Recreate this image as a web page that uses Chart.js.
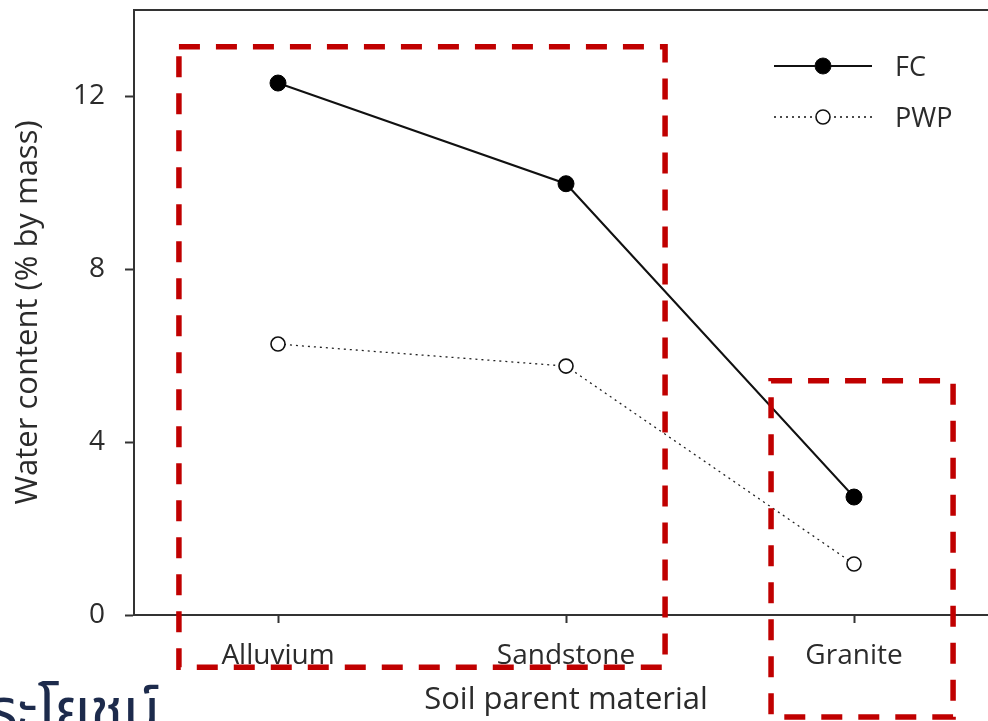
<!DOCTYPE html>
<html>
<head>
<meta charset="utf-8">
<script src="https://cdn.jsdelivr.net/npm/chart.js@4"></script>
<style>
  html, body { margin: 0; padding: 0; background: #fff; overflow: hidden; }
  #wrap { position: relative; width: 988px; height: 721px; overflow: hidden; }
  #thai { position: absolute; left: -48px; top: 667px; font-family: "Noto Sans Thai", "Noto Sans", sans-serif; font-size: 60px; color: #1d2b4c; white-space: nowrap; }
</style>
</head>
<body>
<div id="wrap">
  <!-- the plot runs a little past the right edge of the picture, as in the original -->
  <canvas id="chart" width="1007" height="721"></canvas>
  <div id="thai">ประโยชน์</div>
</div>
<script>
const materials = ['Alluvium', 'Sandstone', 'Granite']
const fcValues = [12.31, 9.98, 2.73]
const pwpValues = [6.27, 5.76, 1.18]
const yTicks = [0, 4, 8, 12]
// highlight boxes, in axis units: [xMin, xMax, yMin, yMax]
const highlights = [
    [-0.344, 1.344, -1.21, 13.15],
    [1.712, 2.344, -2.36, 5.42]
]

const textColor = '#2b2b2b'
const fontFamily = '"Open Sans", "Noto Sans", sans-serif'

const extras = {
    id: 'extras',
    afterDraw(chart) {
        const {ctx, chartArea, scales} = chart
        ctx.save()
        // top frame line
        ctx.strokeStyle = '#333'
        ctx.lineWidth = 2
        ctx.beginPath()
        ctx.moveTo(chartArea.left, chartArea.top)
        ctx.lineTo(chartArea.right, chartArea.top)
        ctx.stroke()

        // legend
        const rows = [
            {label: 'FC', y: 66, ds: chart.data.datasets[0]},
            {label: 'PWP', y: 117, ds: chart.data.datasets[1]}
        ]
        rows.forEach(r => {
            ctx.strokeStyle = '#111'
            ctx.lineWidth = r.ds.borderWidth
            ctx.setLineDash(r.ds.borderDash || [])
            ctx.beginPath()
            ctx.moveTo(774, r.y)
            ctx.lineTo(872, r.y)
            ctx.stroke()
            ctx.setLineDash([])
            ctx.beginPath()
            ctx.arc(823, r.y, r.ds.pointRadius, 0, Math.PI * 2)
            ctx.fillStyle = r.ds.pointBackgroundColor
            ctx.fill()
            ctx.lineWidth = r.ds.pointBorderWidth
            ctx.strokeStyle = '#111'
            ctx.stroke()
            ctx.fillStyle = textColor
            ctx.font = `27px ${fontFamily}`
            ctx.textBaseline = 'middle'
            ctx.fillText(r.label, 895, r.y + 2)
        })

        // red dashed highlight boxes
        ctx.strokeStyle = '#c00000'
        ctx.lineWidth = 5.5
        ctx.setLineDash([21, 16])
        highlights.forEach(h => {
            const x1 = scales.x.getPixelForValue(h[0])
            const x2 = scales.x.getPixelForValue(h[1])
            const y1 = scales.y.getPixelForValue(h[3])
            const y2 = scales.y.getPixelForValue(h[2])
            ctx.strokeRect(x1, y1, x2 - x1, y2 - y1)
        })
        ctx.restore()
    }
}

new Chart(document.getElementById('chart'), {
    type: 'line',
    data: {
        datasets: [
            {
                label: 'FC',
                data: fcValues.map((v, i) => ({x: i, y: v})),
                borderColor: '#111',
                borderWidth: 2,
                pointRadius: 8,
                pointBackgroundColor: '#000',
                pointBorderColor: '#000',
                pointBorderWidth: 1
            },
            {
                label: 'PWP',
                data: pwpValues.map((v, i) => ({x: i, y: v})),
                borderColor: '#222',
                borderWidth: 1.3,
                borderDash: [2, 4],
                pointRadius: 7,
                pointBackgroundColor: '#fff',
                pointBorderColor: '#111',
                pointBorderWidth: 1.6
            }
        ]
    },
    options: {
        responsive: false,
        animation: false,
        layout: {padding: {top: 10, right: 0, left: 0, bottom: 0}},
        plugins: {legend: {display: false}, tooltip: {enabled: false}},
        scales: {
            x: {
                type: 'linear',
                min: -0.5,
                max: 2.5,
                afterBuildTicks: axis => { axis.ticks = materials.map((m, i) => ({value: i})) },
                afterFit: axis => {
                    axis.height = 106
                    axis.paddingLeft = 0
                    axis.paddingRight = 0
                },
                ticks: {
                    color: textColor,
                    font: {family: fontFamily, size: 28},
                    padding: 16,
                    maxRotation: 0,
                    callback: v => materials[v]
                },
                grid: {drawOnChartArea: false, tickLength: 8, tickColor: '#333', tickWidth: 2},
                border: {color: '#333', width: 2},
                title: {
                    display: true,
                    text: 'Soil parent material',
                    color: textColor,
                    font: {family: fontFamily, size: 31},
                    padding: {top: 0, bottom: 2}
                }
            },
            y: {
                min: 0,
                max: 14,
                afterBuildTicks: axis => { axis.ticks = yTicks.map(v => ({value: v})) },
                afterFit: axis => {
                    axis.width = 134
                    axis.paddingTop = 0
                    axis.paddingBottom = 0
                },
                ticks: {
                    color: textColor,
                    font: {family: fontFamily, size: 28},
                    padding: 20
                },
                grid: {drawOnChartArea: false, tickLength: 9, tickColor: '#333', tickWidth: 2},
                border: {color: '#333', width: 2},
                title: {
                    display: true,
                    text: 'Water content (% by mass)',
                    color: textColor,
                    font: {family: fontFamily, size: 31},
                    padding: {top: 10, bottom: 0}
                }
            }
        }
    },
    plugins: [extras]
})
</script>
</body>
</html>
